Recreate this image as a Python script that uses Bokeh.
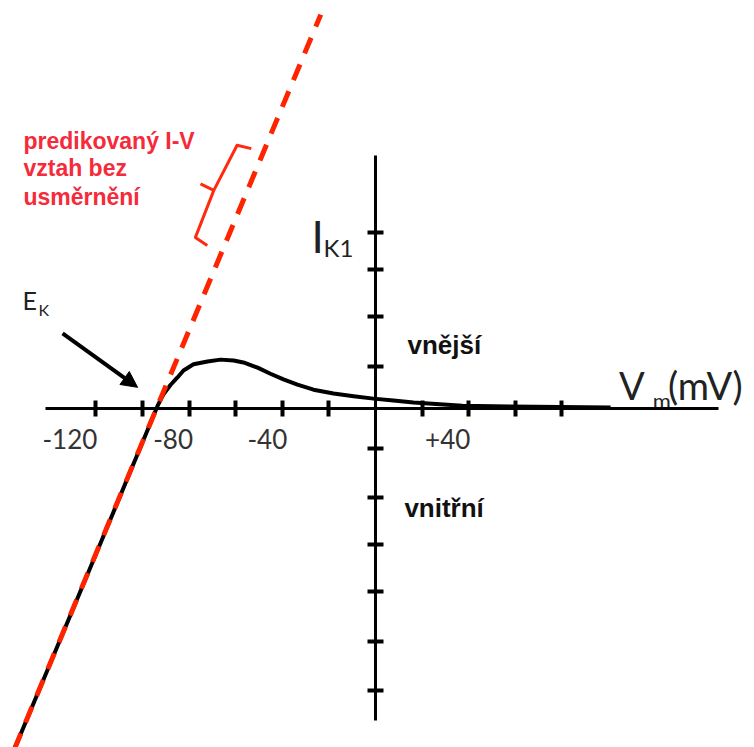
from bokeh.plotting import figure
from bokeh.models import Range1d, LinearAxis, FixedTicker, Arrow, NormalHead, ColumnDataSource
from bokeh.core.properties import value
from bokeh.embed import file_html
from bokeh.resources import INLINE

# Membrane potential (mV) and I_K1 (arbitrary units) of the inward rectifier
vm_curve = [-155, -120, -100, -93.5, -91, -88, -85, -82.4, -78.1, -72.1, -66.5,
            -60.9, -56.7, -50.6, -45.1, -39.5, -33.5, -26.6, -18, -9.4, -0.9,
            7.7, 16.3, 37.3, 57.5, 100.9]
ik1_curve = [-7.25, -3.1, -0.72, 0.06, 0.3, 0.5, 0.66, 0.81, 0.94, 1.0, 1.04,
             1.02, 0.98, 0.87, 0.74, 0.62, 0.51, 0.40, 0.32, 0.26, 0.21,
             0.17, 0.13, 0.06, 0.04, 0.02]

# Ohmic (non-rectifying) prediction through E_K
vm_ohmic = [-155, -23.5]
ik1_ohmic = [-7.25, 8.38]

x_ticks = [-120, -100, -80, -60, -40, -20, 20, 40, 60, 80]
y_ticks = [3.75, 2.95, 1.95, 0.9, -0.85, -1.9, -2.9, -3.9, -4.95, -6.0]
x_label_vals = [-120, -80, -40, 40]
x_label_text = ["-120", "-80", "-40", "+40"]

W, H = 754, 747
PX_PER_MV = 2.33
PX_PER_UNIT = 47.0
X0, Y0 = 375, 408

p = figure(width=W, height=H, output_backend="svg", toolbar_location=None,
           x_axis_location=None, y_axis_location=None,
           x_range=Range1d(-X0 / PX_PER_MV, (W - X0) / PX_PER_MV),
           y_range=Range1d(-(H - Y0) / PX_PER_UNIT, Y0 / PX_PER_UNIT),
           min_border=0, background_fill_color="white", border_fill_color="white")
p.outline_line_color = None
p.xgrid.visible = False
p.ygrid.visible = False

# Axes crossing at the origin
xax = LinearAxis(fixed_location=0, ticker=FixedTicker(ticks=x_ticks),
                 bounds=(-141.6, 147.2))
yax = LinearAxis(fixed_location=0, ticker=FixedTicker(ticks=y_ticks),
                 bounds=(-6.64, 5.38))
for ax in (xax, yax):
    ax.axis_line_width = 3
    ax.axis_line_color = "black"
    ax.major_tick_in = 8
    ax.major_tick_out = 8
    ax.major_tick_line_width = 4
    ax.major_tick_line_color = "black"
    ax.minor_tick_line_color = None
    ax.major_label_text_color = None
p.add_layout(xax, "below")
p.add_layout(yax, "left")

# Measured rectifying curve, then the ohmic prediction dashed over it
p.line(vm_curve, ik1_curve, line_color="black", line_width=4, line_join="round")
p.line(vm_ohmic, ik1_ohmic, line_color="#ff2400", line_width=5, line_dash="17 12")

# Bracket next to the dashed line
p.line([-53.3, -59.4, -69.4, -77.3, -72.2], [5.53, 5.60, 4.64, 3.64, 3.47],
       line_color="#ff2a10", line_width=3, line_join="round")
p.line([-75.1, -69.4], [4.78, 4.64], line_color="#ff2a10", line_width=3)

# Arrow pointing to the reversal potential
p.add_layout(Arrow(x_start=-134.3, y_start=1.60, x_end=-102.1, y_end=0.45,
                   line_width=4, line_color="black",
                   end=NormalHead(size=16, fill_color="black", line_color="black",
                                  line_width=1)))

lato = value("Lato")
arial = value("Liberation Sans")

# Tick labels, set slightly left of their ticks
labels = ColumnDataSource(dict(x=x_label_vals, y=[-0.64] * 4, text=x_label_text,
                               dx=[-26, -16, -15, -21]))
p.text(x="x", y="y", text="text", x_offset="dx", source=labels,
       text_font=lato, text_font_size="26px", text_color="#333333",
       text_align="center", text_baseline="middle")

# Axis titles with subscripts
p.text(x=[-27.5], y=[3.68], text=["I"], text_font=lato, text_font_size="44px",
       text_color="#222222", text_baseline="alphabetic")
p.text(x=[-22.3], y=[3.43], text=["K1"], text_font=lato, text_font_size="24px",
       text_color="#222222", text_baseline="alphabetic")
p.text(x=[104.5], y=[0.49], text=["V"], text_font=lato, text_font_size="38px",
       text_color="#222222", text_baseline="alphabetic")
p.text(x=[119.0], y=[0.17], text=["m"], text_font=lato, text_font_size="22px",
       text_color="#222222", text_baseline="alphabetic")
p.text(x=[125.5], y=[0.49], text=["(mV)"], text_font=lato, text_font_size="38px",
       text_color="#222222", text_baseline="alphabetic")
p.text(x=[-151.5], y=[2.30], text=["E"], text_font=lato, text_font_size="25px",
       text_color="#222222", text_baseline="alphabetic")
p.text(x=[-144.6], y=[2.11], text=["K"], text_font=lato, text_font_size="16px",
       text_color="#222222", text_baseline="alphabetic")

# Outward / inward current regions
p.text(x=[13.7, 12.4], y=[1.36, -2.11], text=["vnější", "vnitřní"],
       text_font=arial, text_font_size="26px", text_font_style="bold",
       text_color="#111111", text_baseline="alphabetic")

# Annotation of the predicted ohmic relation
p.text(x=[-151.1] * 3, y=[5.70, 5.11, 4.51],
       text=["predikovaný I-V", "vztah bez", "usměrnění"],
       text_font=arial, text_font_size="23px", text_font_style="bold",
       text_color="#f52a3a", text_baseline="alphabetic")

open("out.html", "w").write(file_html(p, INLINE))
